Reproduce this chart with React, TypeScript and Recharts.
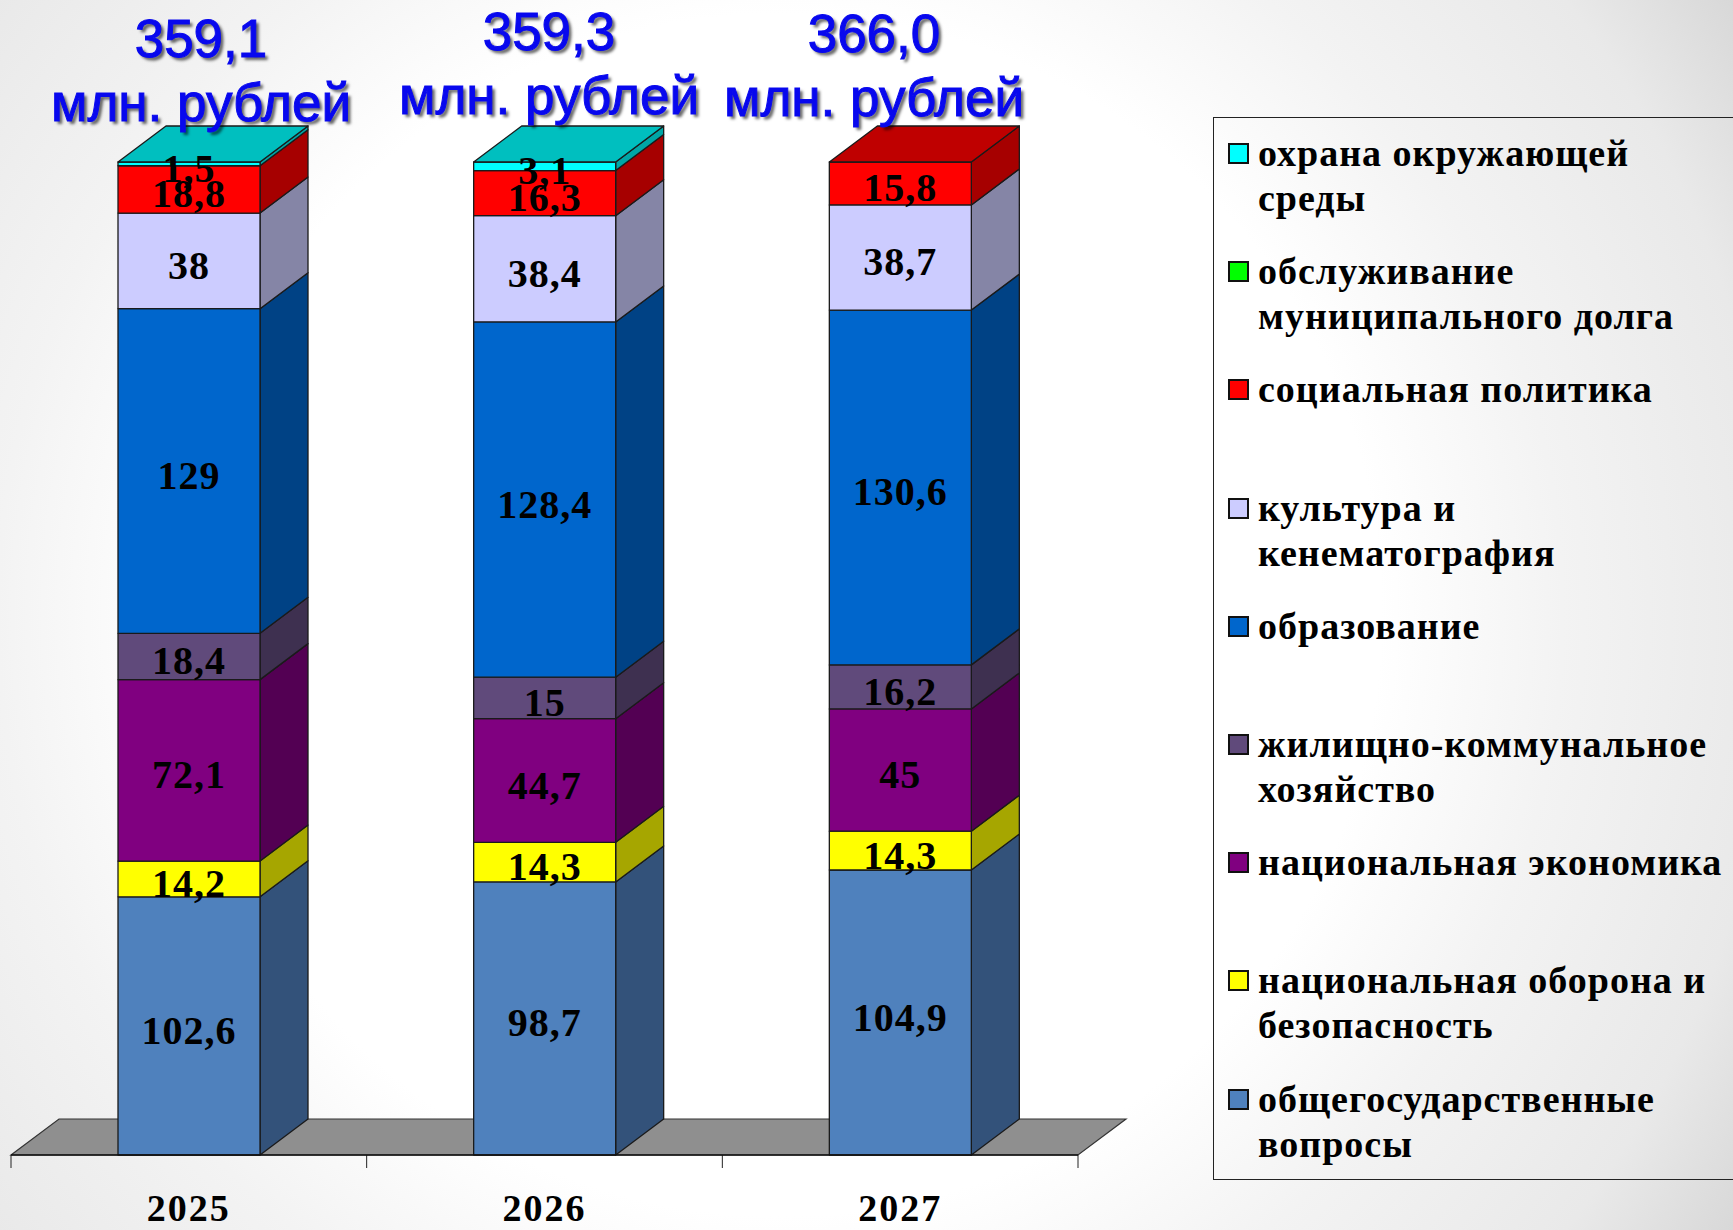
import React from 'react';
import { BarChart, Bar, XAxis, YAxis, Legend, LabelList, ReferenceArea } from 'recharts';

const years = ['2025', '2026', '2027'];
const totals = ['359,1', '359,3', '366,0'];

const general = [102.6, 98.7, 104.9];
const defense = [14.2, 14.3, 14.3];
const economy = [72.1, 44.7, 45];
const housing = [18.4, 15, 16.2];
const education = [129, 128.4, 130.6];
const culture = [38, 38.4, 38.7];
const social = [18.8, 16.3, 15.8];
const debt = [0, 0, 0];
const ecology = [1.5, 3.1, 0];

const series = [
  { key: 'general', name: 'общегосударственные\nвопросы', values: general, fill: '#4F81BD', side: '#33527A', top: '#3B618E' },
  { key: 'defense', name: 'национальная оборона и\nбезопасность', values: defense, fill: '#FFFF00', side: '#A6A600', top: '#BFBF00' },
  { key: 'economy', name: 'национальная экономика', values: economy, fill: '#800080', side: '#530053', top: '#600060' },
  { key: 'housing', name: 'жилищно-коммунальное\nхозяйство', values: housing, fill: '#604A7B', side: '#3E3050', top: '#48375C' },
  { key: 'education', name: 'образование', values: education, fill: '#0066CC', side: '#004285', top: '#004D99' },
  { key: 'culture', name: 'культура и\nкенематография', values: culture, fill: '#CCCCFF', side: '#8585A6', top: '#9999BF' },
  { key: 'social', name: 'социальная политика', values: social, fill: '#FF0000', side: '#A60000', top: '#BF0000' },
  { key: 'debt', name: 'обслуживание\nмуниципального долга', values: debt, fill: '#00FF00', side: '#00A600', top: '#00BF00' },
  { key: 'ecology', name: 'охрана окружающей\nсреды', values: ecology, fill: '#00FFFF', side: '#00A6A6', top: '#00BFBF' },
];

const rows = years.map((year, i) => {
  const row: any = { year };
  series.forEach((s) => { row[s.key] = s.values[i]; });
  return row;
});

const DX = 48;
const DY = 36;
const SERIF = '"Liberation Serif", serif';
const EDGE = '#1a1a1a';

document.body.style.margin = '0';

const isTopOfStack = (seriesIdx: number, i: number) =>
  series.slice(seriesIdx + 1).every((s) => s.values[i] === 0);

const Box3D = ({ x, y, width: w, height: h, index, s, seriesIdx }: any) => {
  if (!h || s.values[index] === 0) return null;
  return (
    <g stroke={EDGE} strokeWidth={1.3} strokeLinejoin="round">
      <polygon fill={s.side} points={`${x + w},${y} ${x + w + DX},${y - DY} ${x + w + DX},${y + h - DY} ${x + w},${y + h}`} />
      <rect x={x} y={y} width={w} height={h} fill={s.fill} />
      {isTopOfStack(seriesIdx, index) && (
        <polygon fill={s.top} points={`${x},${y} ${x + DX},${y - DY} ${x + w + DX},${y - DY} ${x + w},${y}`} />
      )}
    </g>
  );
};

// gray floor plus the ticks between the categories
const Floor = ({ x, y, width, height }: any) => {
  const base = y + height;
  const step = width / years.length;
  return (
    <g>
      <polygon
        fill="#8F8F8F"
        stroke="#333"
        strokeWidth={1.2}
        points={`${x},${base} ${x + DX},${base - DY} ${x + width + DX},${base - DY} ${x + width},${base}`}
      />
      {[0, 1, 2, 3].map((n) => (
        <line key={n} x1={x + n * step} x2={x + n * step} y1={base} y2={base + 13} stroke="#222" strokeWidth={1} />
      ))}
    </g>
  );
};

const LegendBox = ({ payload }: any) => (
  <div style={{ paddingTop: 13 }}>
    {[...(payload || [])].reverse().map((p: any) => (
      <div key={p.value} style={{ height: 118.2, display: 'flex', alignItems: 'flex-start' }}>
        <span
          style={{
            width: 17,
            height: 17,
            marginTop: 12,
            marginLeft: 14,
            marginRight: 9,
            flex: 'none',
            background: p.color,
            border: '2px solid #111',
          }}
        />
        <span
          style={{
            whiteSpace: 'pre-line',
            fontFamily: SERIF,
            fontWeight: 700,
            fontSize: 38,
            letterSpacing: 1,
            lineHeight: '45px',
            color: '#000',
          }}
        >
          {p.value}
        </span>
      </div>
    ))}
  </div>
);

const titles = [
  { left: 201, top: 7 },
  { left: 549, top: 0 },
  { left: 874, top: 2 },
];

export default function App() {
  return (
    <div
      style={{
        position: 'relative',
        width: 1733,
        height: 1230,
        overflow: 'hidden',
        background:
          'radial-gradient(circle 1134px at 780px 615px, #ffffff 53%, #f3f3f3 69%, #e9e9e9 88%, #d8d8d8 100%)',
      }}
    >
      <BarChart
        width={1733}
        height={1230}
        data={rows}
        stackOffset="expand"
        barSize={142}
        margin={{ top: 162, right: 655, bottom: 0, left: 11 }}
        style={{ position: 'absolute', left: 0, top: 0 }}
      >
        <YAxis hide domain={[0, 1]} />
        <XAxis
          dataKey="year"
          height={75}
          axisLine={{ stroke: '#111', strokeWidth: 1.6 }}
          tickLine={false}
          tickMargin={33}
          tick={{ fontFamily: SERIF, fontWeight: 700, fontSize: 38, letterSpacing: 2, fill: '#000' }}
        />
        <ReferenceArea y1={0} y2={1} shape={<Floor />} />
        {series.map((s, seriesIdx) => (
          <Bar
            key={s.key}
            dataKey={s.key}
            name={s.name}
            stackId="a"
            fill={s.fill}
            isAnimationActive={false}
            shape={(p: any) => <Box3D {...p} s={s} seriesIdx={seriesIdx} />}
          >
            <LabelList
              content={(p: any) =>
                s.values[p.index] === 0 ? null : (
                  <text
                    x={p.x + p.width / 2}
                    y={p.y + p.height / 2 + 18}
                    textAnchor="middle"
                    fontFamily={SERIF}
                    fontWeight={700}
                    fontSize={40}
                    letterSpacing={1}
                    fill="#000"
                  >
                    {String(s.values[p.index]).replace('.', ',')}
                  </text>
                )
              }
            />
          </Bar>
        ))}
        <Legend
          layout="vertical"
          align="center"
          verticalAlign="middle"
          itemSorter={null}
          content={<LegendBox />}
          wrapperStyle={{
            left: 1213,
            top: 117,
            width: 600,
            height: 1063,
            boxSizing: 'border-box',
            border: '1px solid #222',
          }}
        />
      </BarChart>
      {years.map((y, i) => (
        <div
          key={y}
          style={{
            position: 'absolute',
            left: titles[i].left - 165,
            top: titles[i].top,
            width: 330,
            textAlign: 'center',
            fontFamily: '"Liberation Sans", sans-serif',
            fontSize: 53,
            lineHeight: '64px',
            color: '#0808EE',
            WebkitTextStroke: '1px #0808EE',
            textShadow: '3px 3px 3px rgba(0,0,0,0.6)',
          }}
        >
          {totals[i]}
          <br />
          млн. рублей
        </div>
      ))}
    </div>
  );
}
